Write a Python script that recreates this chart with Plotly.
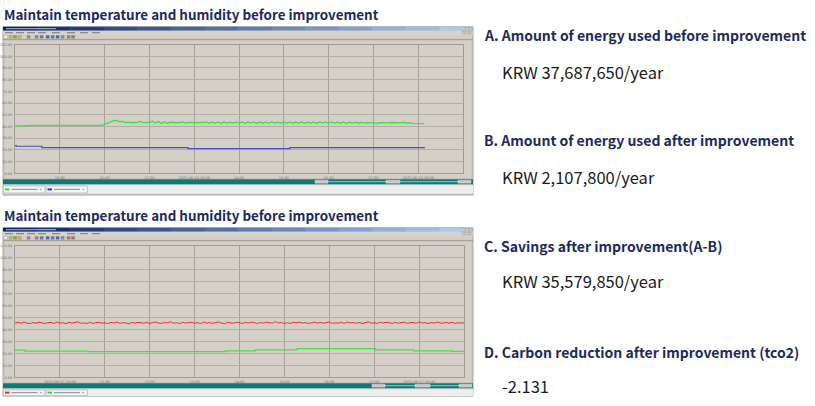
import plotly.graph_objects as go

# ---------------- data ----------------
top_time = list(range(0, 552, 4))          # minutes, 4-min samples
top_humidity = [
    40.3, 40.3, 40.3, 40.3, 40.3, 40.3,
    40.9, 41.0, 41.0, 41.1, 41.0, 41.0, 40.9, 41.0, 41.1, 41.0, 41.0, 41.0,
    40.9, 41.0, 41.0, 41.1, 41.0, 41.0, 41.0, 40.9, 41.0, 41.1, 41.0, 41.0,
    41.8, 43.0, 44.2, 45.0, 45.1, 43.9, 44.4, 43.4, 43.8, 43.2, 43.4, 43.5,
    44.3, 43.3, 43.5, 43.4, 44.6, 43.0, 44.2, 42.6, 44.0, 42.8, 43.6,
    43.4, 43.5, 43.2, 43.9, 42.9, 43.5, 43.3, 43.4, 43.2, 43.4,
    43.3, 43.9, 42.7, 43.8, 42.8, 43.9, 42.6, 43.8, 42.9, 43.7,
    42.8, 43.9, 42.7, 44.0, 42.8, 43.8, 42.9, 43.9, 42.6, 43.8,
    42.8, 43.9, 42.7, 44.1, 42.8, 43.7, 43.0, 43.8, 42.7, 43.9,
    42.8, 43.8, 42.9, 44.0, 42.7, 43.8, 42.8, 43.9, 42.6, 43.8,
    42.9, 43.9, 42.8, 44.1, 42.7, 43.8, 42.8, 43.9, 42.5, 43.8,
    42.9, 43.7, 42.8, 43.6, 42.9, 43.4, 43.1, 43.5, 42.4, 43.2,
    43.0, 43.3, 43.1, 43.4, 43.0, 43.2, 43.1, 43.6, 42.8, 43.2,
    42.6, 42.5, 42.6, 42.5, 42.4,
]
top_temp_time = [0, 2, 36, 232, 368, 549]
top_temp = [23.6, 23.1, 22.0, 21.1, 22.0, 22.0]

bottom_time = list(range(0, 604, 4))
bottom_humidity = [
    45.3, 45.9, 45.0, 46.1, 45.2, 44.8, 45.7, 45.1, 46.0, 45.4, 44.9, 45.6, 45.8, 45.0, 46.2, 45.3, 45.5, 44.7, 45.9, 45.2,
    45.6, 46.3, 45.1, 45.4, 44.9, 45.8, 45.0, 45.7, 46.0, 45.2, 45.5, 44.8, 45.9, 45.3, 46.1, 45.0, 45.6, 45.4, 44.6, 45.8,
    45.2, 46.0, 45.5, 45.1, 45.9, 44.9, 45.7, 46.2, 45.3, 45.0, 45.8, 45.4, 46.4, 45.1, 45.6, 44.8, 45.9, 45.2, 45.7, 46.0,
    45.1, 45.5, 44.9, 46.1, 45.3, 45.8, 45.0, 45.6, 46.3, 45.2, 44.7, 45.9, 45.4, 45.1, 46.0, 45.5, 45.0, 45.8, 45.3, 46.2,
    45.6, 44.9, 45.7, 45.2, 46.0, 45.4, 45.1, 46.5, 45.3, 45.8, 44.8, 45.6, 45.0, 45.9, 45.5, 46.1, 45.2, 45.7, 44.9, 45.4,
    46.0, 45.3, 45.8, 45.1, 45.6, 46.2, 44.9, 45.5, 45.2, 45.9, 45.0, 46.1, 45.4, 45.7, 45.1, 45.8, 44.8, 45.6, 46.3, 45.2,
    45.5, 45.0, 45.9, 45.3, 46.0, 45.6, 44.9, 45.8, 45.2, 45.7, 46.1, 45.1, 45.4, 45.9, 45.0, 46.2, 45.3, 45.6, 44.8, 45.7,
    45.2, 46.0, 45.4, 45.1, 45.8, 45.3, 45.9, 45.0, 45.6, 45.2, 45.5,
]
bottom_temp_time = [0, 13, 98, 281, 321, 377, 482, 533, 584, 600]
bottom_temp = [22.6, 21.8, 21.5, 22.1, 22.9, 24.0, 22.9, 22.1, 21.6, 21.6]

y_tickvals = [0, 10, 20, 30, 40, 50, 60, 70, 80, 90, 100, 110]
y_ticktext = ["0.00", "10.00", "20.00", "30.00", "40.00", "50.00", "60.00",
              "70.00", "80.00", "90.00", "100.00", "110.00"]
x_tickvals = [0, 60, 120, 180, 240, 300, 360, 420, 480, 540]
top_x_ticktext = ["2021-06-10 09:00", "10:00", "11:00", "12:00", "2021-06-10 13:00",
                  "14:00", "15:00", "16:00", "17:00", "2021-06-10 18:00"]
bottom_x_ticktext = ["2021-06-17 09:00", "2021-06-17 10:00", "11:00", "12:00", "13:00",
                     "14:00", "15:00", "16:00", "17:00", "2021-06-17 18:00"]

chart_titles = ["Maintain temperature and humidity before improvement",
                "Maintain temperature and humidity before improvement"]
item_headings = ["A. Amount of energy used before improvement",
                 "B. Amount of energy used after improvement",
                 "C. Savings after improvement(A-B)",
                 "D. Carbon reduction after improvement (tco2)"]
item_values = ["KRW 37,687,650/year", "KRW 2,107,800/year",
               "KRW 35,579,850/year", "-2.131"]

# ---------------- layout helpers ----------------
W, H = 815, 406
def X(px):
    return px / W
def Y(py):
    return 1 - py / H

shapes = []
def rect(x0, y0, x1, y1, fill, line=None, lw=0):
    shapes.append(dict(type="rect", xref="paper", yref="paper",
                       x0=X(x0), x1=X(x1), y0=Y(y1), y1=Y(y0),
                       fillcolor=fill, layer="below",
                       line=dict(color=line or fill, width=lw)))
def hline(x0, x1, y, color, lw=1):
    shapes.append(dict(type="line", xref="paper", yref="paper",
                       x0=X(x0), x1=X(x1), y0=Y(y), y1=Y(y),
                       line=dict(color=color, width=lw), layer="below"))

annotations = []
HEAD_FONT = "Noto Sans CJK KR, Noto Sans"
VAL_FONT = "Noto Sans CJK KR, Noto Sans"
def text(x, y, s, size, color, family=VAL_FONT, weight="normal", anchor="left"):
    annotations.append(dict(x=X(x), y=Y(y), xref="paper", yref="paper", text=s,
                            showarrow=False, xanchor=anchor, yanchor="middle",
                            font=dict(size=size, color=color, family=family, weight=weight)))

def window(top, teal0, teal1, leg0, leg1, bottom, scroll_boxes, legend_colors):
    rect(3, top, 473, bottom, "#d4d0c8", "#a8a8a8", 1)
    c0, c1 = (10, 36, 106), (166, 202, 240)
    n = 14
    for i in range(n):
        t = i / (n - 1)
        col = "rgb(%d,%d,%d)" % tuple(int(c0[k] + (c1[k] - c0[k]) * t) for k in range(3))
        rect(3 + i * 470 / n, top, 3 + (i + 1) * 470 / n + 0.5, top + 4, col)
    rect(6, top + 1.2, 56, top + 2.6, "rgba(255,255,255,0.55)")
    for bx in (462, 465.5, 469):
        rect(bx, top + 0.8, bx + 3, top + 3.4, "#d4d0c8", "#808080", 0.3)
    rect(3, top + 4, 473, top + 8, "#d8d4cc")
    for mx in (5, 16, 27, 38, 52, 67, 80, 92):
        rect(mx, top + 5.3, mx + 8, top + 6.6, "#8a8a8a")
    for bx in (462, 465.5, 469):
        rect(bx, top + 4.6, bx + 3, top + 7.2, "#d4d0c8", "#808080", 0.3)
    icons = [(4, "#ffffff"), (9, "#c8c040"), (13.5, "#7cae3c"), (18, "#d8b848"),
             (27, "#909090"), (35, "#8888a0"), (40, "#6a7a9a"), (46, "#3a64c8"),
             (51, "#5080c0"), (56, "#4068b8"), (61, "#7090d0"), (67, "#a08070"), (71.5, "#b07060")]
    for ix, col in icons:
        rect(ix, top + 8.8, ix + 3.2, top + 11.6, col, "#707070", 0.3)
    hline(3, 473, top + 12.8, "#8c8c8c", 0.8)
    rect(4, top + 13.5, 472, teal0 - 0.5, "#d4d0c8", "#b8b4ac", 0.6)
    rect(3, teal0, 473, teal1, "#0d7a78")
    hline(scroll_boxes[0], 471, (teal0 + teal1) / 2, "#c8d8d8", 0.8)
    for sx, sw in scroll_boxes[1]:
        rect(sx, teal0 + 1, sx + sw, teal1 - 1, "#c8c8c8", "#f0f0f0", 0.4)
    rect(3, leg0, 473, leg1, "#eeeeee")
    for (lx, col) in zip((3.5, 46), legend_colors):
        rect(lx, leg0 + 0.8, lx + 41.5, leg1 - 0.6, "#f4f4f4", "#9a9a9a", 0.5)
        shapes.append(dict(type="line", xref="paper", yref="paper",
                           x0=X(lx + 1.5), x1=X(lx + 6), y0=Y((leg0 + leg1) / 2), y1=Y((leg0 + leg1) / 2),
                           line=dict(color=col, width=2), layer="below"))
        rect(lx + 8, (leg0 + leg1) / 2 - 0.6, lx + 34, (leg0 + leg1) / 2 + 0.6, "#9a9aa8")
        rect(lx + 36.5, (leg0 + leg1) / 2 - 0.6, lx + 38, (leg0 + leg1) / 2 + 0.6, "#9a9aa8")

window(25, 179, 184, 185, 193.5, 195,
       (315, [(315, 13), (386, 14), (458, 13)]), ("#30e030", "#3030e0"))
window(228, 385, 390, 391, 398, 398,
       (372, [(372, 13), (415, 15), (459, 13)]), ("#ff2020", "#30e030"))

# ---------------- texts ----------------
head_col = "#1c2b5c"
text(2, 12.5, chart_titles[0], 13.4, head_col, family=HEAD_FONT, weight="bold")
text(2, 215, chart_titles[1], 13.4, head_col, family=HEAD_FONT, weight="bold")
head_y = [33.5, 139.5, 246.5, 353]
val_y = [71, 177, 282, 388]
for s, yy in zip(item_headings, head_y):
    text(482, yy, s, 14.0, head_col, family=HEAD_FONT, weight="bold")
for s, yy in zip(item_values, val_y):
    text(500, yy, s, 16.5, "#1a1a1a")

# ---------------- traces ----------------
fig = go.Figure()
fig.add_trace(go.Scatter(x=top_time, y=top_humidity, mode="lines", xaxis="x", yaxis="y",
                         line=dict(color="#3ee23e", width=1.3), hoverinfo="skip", showlegend=False))
fig.add_trace(go.Scatter(x=top_temp_time, y=top_temp, mode="lines", xaxis="x", yaxis="y",
                         line=dict(color="#4a4ad2", width=1.2, shape="hv"), hoverinfo="skip", showlegend=False))
fig.add_trace(go.Scatter(x=bottom_time, y=bottom_humidity, mode="lines", xaxis="x2", yaxis="y2",
                         line=dict(color="#ff2a2a", width=1), hoverinfo="skip", showlegend=False))
fig.add_trace(go.Scatter(x=bottom_temp_time, y=bottom_temp, mode="lines", xaxis="x2", yaxis="y2",
                         line=dict(color="#44e044", width=1.2, shape="hv"), hoverinfo="skip", showlegend=False))

tick_font = dict(size=3.5, color="#707070", family="DejaVu Sans")
def xaxis(domain, ticktext, anchor):
    return dict(domain=domain, range=[0, 600], anchor=anchor, tickmode="array",
                tickvals=x_tickvals, ticktext=ticktext, tickfont=tick_font,
                showgrid=True, gridcolor="#a6a29a", gridwidth=1.2, zeroline=False,
                showline=True, linecolor="#a09c94", linewidth=1, mirror=True,
                ticks="", ticklabelstandoff=1, fixedrange=True)
def yaxis(domain, anchor):
    return dict(domain=domain, range=[0, 110], anchor=anchor, tickmode="array",
                tickvals=y_tickvals, ticktext=y_ticktext, tickfont=tick_font,
                showgrid=True, gridcolor="#b2aea6", gridwidth=1, zeroline=False,
                showline=True, linecolor="#a09c94", linewidth=1, mirror=True,
                ticks="", ticklabelstandoff=1, fixedrange=True)

fig.update_layout(
    width=W, height=H, autosize=False,
    margin=dict(l=0, r=0, t=0, b=0),
    paper_bgcolor="#ffffff", plot_bgcolor="#d6d2ca",
    xaxis=xaxis([X(15), X(463)], top_x_ticktext, "y"),
    yaxis=yaxis([Y(173), Y(43)], "x"),
    xaxis2=xaxis([X(15), X(464)], bottom_x_ticktext, "y2"),
    yaxis2=yaxis([Y(379), Y(246)], "x2"),
    shapes=shapes, annotations=annotations, showlegend=False,
)

fig.write_html("out.html", config={"displayModeBar": False},
               post_script="document.body.style.margin='0px';document.body.style.overflow='hidden';")
